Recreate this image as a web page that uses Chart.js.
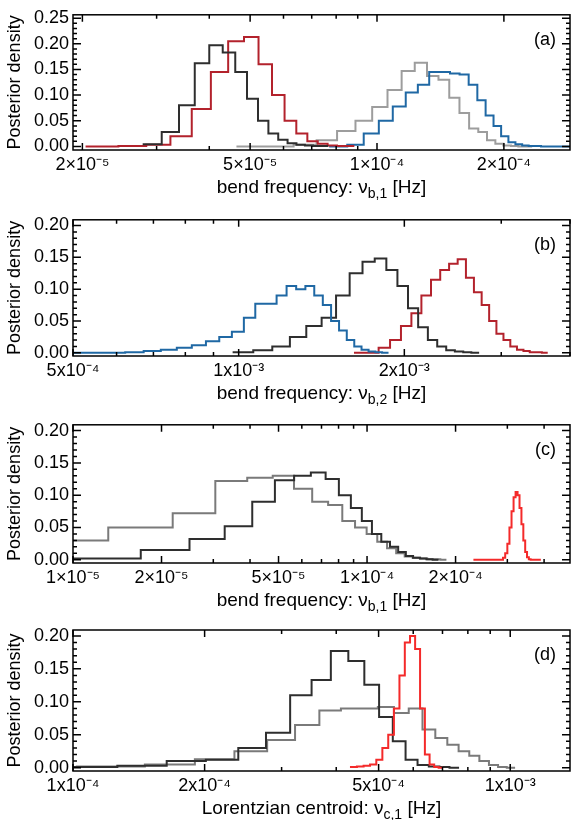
<!DOCTYPE html>
<html>
<head>
<meta charset="utf-8">
<script src="https://cdn.jsdelivr.net/npm/chart.js@4.4.1/dist/chart.umd.min.js"></script>
<style>
  body { margin: 0; background: #fff; width: 573px; height: 820px; position: relative; overflow: hidden; }
  canvas { position: absolute; left: 0; }
</style>
</head>
<body>
<canvas id="pa" width="573" height="205" style="top:0"></canvas>
<canvas id="pb" width="573" height="205" style="top:205px"></canvas>
<canvas id="pc" width="573" height="205" style="top:410px"></canvas>
<canvas id="pd" width="573" height="205" style="top:615px"></canvas>
<script>
// ---------- data (bins = [first edge, bin width] in Hz) ----------
// panel (a)
const aTicks = [2e-5, 5e-5, 1e-4, 2e-4];
const aTickLabels = ['2×10⁻⁵', '5×10⁻⁵', '1×10⁻⁴', '2×10⁻⁴'];
const aDarkBins = [2.78e-5, 3.05e-6];
const aDark = [0.004, 0.028, 0.08, 0.162, 0.197, 0.183, 0.145, 0.093, 0.05, 0.025, 0.013, 0.006, 0.003, 0.002, 0.001, 0.001];
const aRedBins = [2.035e-5, 4.0e-6];
const aRed = [0, 0.001, 0.003, 0.02, 0.073, 0.145, 0.205, 0.213, 0.16, 0.10, 0.05, 0.025, 0.01, 0.005, 0.002, 0.001, 0.001];
const aGrayBins = [4.64e-5, 8.5e-6];
const aGray = [0, 0, 0.003, 0.012, 0.03, 0.05, 0.077, 0.11, 0.147, 0.163, 0.137, 0.13, 0.095, 0.065, 0.035, 0.028, 0.012, 0.005, 0.002, 0.001, 0, 0];
const aBlueBins = [7.7e-5, 8.0e-6];
const aBlue = [0, 0.003, 0.025, 0.05, 0.078, 0.105, 0.12, 0.145, 0.145, 0.142, 0.14, 0.12, 0.09, 0.06, 0.04, 0.02, 0.008, 0.004, 0.002, 0.001, 0.001, 0, 0, 0, 0, 0, 0];

// panel (b)
const bTicks = [5e-4, 1e-3, 2e-3];
const bTickLabels = ['5x10⁻⁴', '1x10⁻³', '2x10⁻³'];
const bBlueBins = [4.72e-4, 5.0e-5];
const bBlue = [0, 0, 0, 0.001, 0.003, 0.005, 0.008, 0.012, 0.018, 0.025, 0.033, 0.055, 0.077, 0.077, 0.09, 0.105, 0.1, 0.105, 0.09, 0.075, 0.05, 0.035, 0.02, 0.01, 0.005, 0.002, 0.001, 0];
const bDarkBins = [0.975e-3, 8.8e-5];
const bDark = [0.001, 0.004, 0.01, 0.025, 0.042, 0.055, 0.09, 0.125, 0.143, 0.148, 0.13, 0.105, 0.07, 0.04, 0.02, 0.01, 0.004, 0.002, 0.001, 0];
const bRedBins = [1.62e-3, 8.8e-5];
const bRed = [0, 0, 0.008, 0.02, 0.042, 0.062, 0.09, 0.115, 0.13, 0.14, 0.147, 0.118, 0.095, 0.075, 0.05, 0.03, 0.02, 0.01, 0.005, 0.003, 0.001, 0.001, 0];

// panel (c)
const cTicks = [1e-5, 2e-5, 5e-5, 1e-4, 2e-4];
const cTickLabels = ['1×10⁻⁵', '2×10⁻⁵', '5×10⁻⁵', '1×10⁻⁴', '2×10⁻⁴'];
const cGrayBins = [4.53e-6, 8.65e-6];
const cGray = [0.03, 0.05, 0.072, 0.122, 0.127, 0.13, 0.11, 0.09, 0.085, 0.06, 0.05, 0.04, 0.028, 0.018, 0.01, 0.005, 0.003, 0.002, 0.001, 0.001, 0];
const cDarkBins = [9.1e-6, 7.9e-6];
const cDark = [0.002, 0.015, 0.032, 0.052, 0.09, 0.123, 0.13, 0.135, 0.125, 0.1, 0.08, 0.06, 0.04, 0.028, 0.02, 0.012, 0.006, 0.003, 0.002, 0.001, 0];
const cRedBins = [2.3e-4, 5.0e-6];
const cRed = [0, 0, 0, 0, 0, 0, 0, 0, 0, 0, 0, 0, 0.003, 0.01, 0.025, 0.05, 0.075, 0.097, 0.105, 0.1, 0.08, 0.055, 0.03, 0.012, 0.004, 0.001, 0, 0, 0, 0, 0, 0];

// panel (d)
const dTicks = [1e-4, 2e-4, 5e-4, 1e-3];
const dTickLabels = ['1x10⁻⁴', '2x10⁻⁴', '5x10⁻⁴', '1x10⁻³'];
const dDarkBins = [0.888e-4, 3.75e-5];
const dDark = [0.001, 0.003, 0.01, 0.012, 0.03, 0.053, 0.11, 0.133, 0.177, 0.162, 0.126, 0.077, 0.04, 0.012, 0.004, 0.002, 0.001, 0];
const dGrayBins = [0.58e-4, 4.4e-5];
const dGray = [0.001, 0.002, 0.005, 0.013, 0.025, 0.042, 0.065, 0.087, 0.09, 0.09, 0.092, 0.083, 0.09, 0.058, 0.045, 0.035, 0.025, 0.018, 0.01, 0.004, 0.001, 0];
const dRedBins = [4.3e-4, 1.6e-5];
const dRed = [0.001, 0.002, 0.003, 0.005, 0.012, 0.03, 0.05, 0.09, 0.14, 0.19, 0.2, 0.18, 0.09, 0.02, 0.005, 0.001, 0];

// ---------- helpers ----------
const FONT = "'Liberation Sans', Arial, Helvetica, sans-serif";

// one point per left bin edge plus the closing right edge; the value
// of a point is held until the next edge (stepped: 'before')
function stepPoints(bins, vals) {
  const [lo, w] = bins;
  const pts = vals.map((v, i) => ({ x: lo + i * w, y: v }));
  pts.push({ x: lo + vals.length * w, y: vals[vals.length - 1] });
  return pts;
}

function line(bins, vals, color) {
  return {
    data: stepPoints(bins, vals),
    borderColor: color,
    borderWidth: 2,
    stepped: 'before',
    pointRadius: 0,
    fill: false
  };
}

// frame with inward ticks on all four sides, panel letter and x title
const frameTicks = {
  id: 'frameTicks',
  afterDraw(chart, args, opts) {
    const { ctx, chartArea: a, scales: { x, y } } = chart;
    ctx.save();
    ctx.strokeStyle = '#000';
    ctx.lineWidth = 1.5;
    ctx.strokeRect(a.left, a.top, a.right - a.left, a.bottom - a.top);

    ctx.beginPath();
    const e0 = Math.floor(Math.log10(x.min)), e1 = Math.ceil(Math.log10(x.max));
    for (let e = e0; e <= e1; e++) {
      for (let m = 1; m <= 9; m++) {
        const v = m * Math.pow(10, e);
        if (v < x.min * 0.999 || v > x.max) continue;
        const px = x.getPixelForValue(v);
        const len = opts.major.some(t => Math.abs(t / v - 1) < 1e-6) ? 7 : 4;
        ctx.moveTo(px, a.bottom); ctx.lineTo(px, a.bottom - len);
        ctx.moveTo(px, a.top); ctx.lineTo(px, a.top + len);
      }
    }
    for (let k = 0; k * 0.01 <= y.max + 1e-9; k++) {
      const py = y.getPixelForValue(k * 0.01);
      const len = k % 5 === 0 ? 8 : 4;
      ctx.moveTo(a.left, py); ctx.lineTo(a.left + len, py);
      ctx.moveTo(a.right, py); ctx.lineTo(a.right - len, py);
    }
    ctx.stroke();

    ctx.fillStyle = '#000';
    ctx.textBaseline = 'middle';
    ctx.font = '18px ' + FONT;
    ctx.textAlign = 'right';
    ctx.fillText(opts.letter, a.right - 14, a.top + 25);

    // x title with subscript
    const [t1, sub, t2] = opts.title;
    ctx.textAlign = 'left';
    ctx.font = '19px ' + FONT;
    const w1 = ctx.measureText(t1).width, w2 = ctx.measureText(t2).width;
    ctx.font = '14px ' + FONT;
    const ws = ctx.measureText(sub).width;
    const xs = (a.left + a.right) / 2 - (w1 + ws + w2) / 2;
    const ty = a.bottom + 38;
    ctx.font = '19px ' + FONT;
    ctx.fillText(t1, xs, ty);
    ctx.font = '14px ' + FONT;
    ctx.fillText(sub, xs + w1, ty + 6);
    ctx.font = '19px ' + FONT;
    ctx.fillText(t2, xs + w1 + ws, ty);
    ctx.restore();
  }
};

function makeChart(id, cfg) {
  const H = 205;
  const xTicks = cfg.ticks, xLabels = cfg.labels;
  const yMajor = [];
  for (let k = 0; k * 0.05 <= cfg.yMax + 1e-9; k++) yMajor.push(+(k * 0.05).toFixed(2));
  return new Chart(document.getElementById(id), {
    type: 'line',
    data: { datasets: cfg.datasets },
    plugins: [frameTicks],
    options: {
      responsive: false,
      animation: false,
      events: [],
      layout: { padding: { top: cfg.padTop, right: 3, left: 0, bottom: 0 } },
      plugins: {
        legend: { display: false },
        tooltip: { enabled: false },
        frameTicks: { major: xTicks, letter: cfg.letter, title: cfg.title }
      },
      scales: {
        x: {
          type: 'logarithmic',
          min: cfg.xMin,
          max: cfg.xMax,
          grid: { display: false, drawTicks: false },
          border: { display: false },
          afterBuildTicks: s => { s.ticks = xTicks.map(v => ({ value: v })); },
          afterFit: s => { s.height = H - cfg.padTop - cfg.plotH; },
          ticks: {
            autoSkip: false,
            maxRotation: 0,
            padding: 4,
            color: '#000',
            font: { family: FONT, size: 18 },
            callback: (v, i) => xLabels[i]
          }
        },
        y: {
          min: cfg.yMin,
          max: cfg.yMax,
          grid: { display: false, drawTicks: false },
          border: { display: false },
          afterBuildTicks: s => { s.ticks = yMajor.map(v => ({ value: v })); },
          afterFit: s => { s.width = 73; },
          ticks: {
            padding: 4,
            color: '#000',
            font: { family: FONT, size: 18 },
            callback: v => v.toFixed(2)
          },
          title: {
            display: true,
            text: 'Posterior density',
            color: '#000',
            font: { family: FONT, size: 18 },
            padding: { top: 4, bottom: 0 }
          }
        }
      }
    }
  });
}

makeChart('pa', {
  padTop: 8, plotH: 142, xMin: 1.9e-5, xMax: 2.87e-4, yMin: -0.007, yMax: 0.2565,
  ticks: aTicks, labels: aTickLabels, letter: '(a)',
  title: ['bend frequency: ν', 'b,1', ' [Hz]'],
  datasets: [
    line(aDarkBins, aDark, '#2e2e2e'),
    line(aRedBins, aRed, '#b3222c'),
    line(aBlueBins, aBlue, '#1f68a4'),
    line(aGrayBins, aGray, '#9d9d9d')
  ]
});

makeChart('pb', {
  padTop: 11, plotH: 140, xMin: 5e-4, xMax: 4.0e-3, yMin: -0.005, yMax: 0.209,
  ticks: bTicks, labels: bTickLabels, letter: '(b)',
  title: ['bend frequency: ν', 'b,2', ' [Hz]'],
  datasets: [
    line(bBlueBins, bBlue, '#1f68a4'),
    line(bDarkBins, bDark, '#2e2e2e'),
    line(bRedBins, bRed, '#b3222c')
  ]
});

makeChart('pc', {
  padTop: 13, plotH: 140, xMin: 1e-5, xMax: 4.9e-4, yMin: -0.005, yMax: 0.209,
  ticks: cTicks, labels: cTickLabels, letter: '(c)',
  title: ['bend frequency: ν', 'b,1', ' [Hz]'],
  datasets: [
    line(cDarkBins, cDark, '#2e2e2e'),
    line(cGrayBins, cGray, '#7a7a7a'),
    line(cRedBins, cRed, '#f42a2a')
  ]
});

makeChart('pd', {
  padTop: 15, plotH: 141, xMin: 1e-4, xMax: 1.37e-3, yMin: -0.005, yMax: 0.209,
  ticks: dTicks, labels: dTickLabels, letter: '(d)',
  title: ['Lorentzian centroid: ν', 'c,1', ' [Hz]'],
  datasets: [
    line(dRedBins, dRed, '#f42a2a'),
    line(dDarkBins, dDark, '#2e2e2e'),
    line(dGrayBins, dGray, '#7a7a7a')
  ]
});
</script>
</body>
</html>
